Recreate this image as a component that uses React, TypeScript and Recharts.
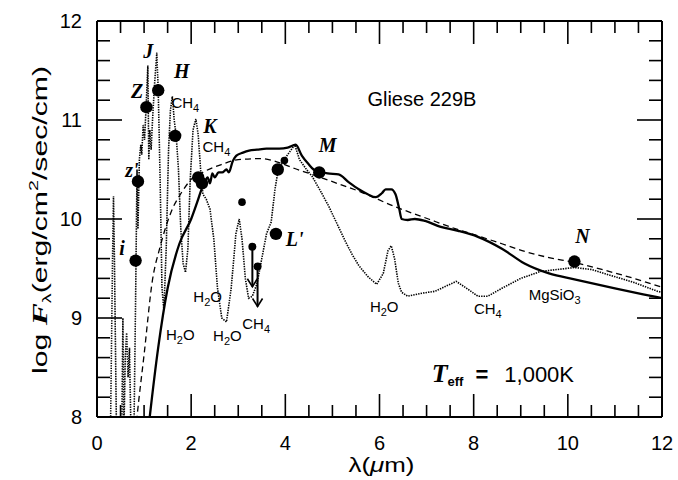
import React from 'react';
import { ComposedChart, Line, Scatter, XAxis, YAxis } from 'recharts';

// ---------- axes ----------
const xMinorTicks = [0, 0.5, 1, 1.5, 2, 2.5, 3, 3.5, 4, 4.5, 5, 5.5, 6, 6.5, 7, 7.5, 8, 8.5, 9, 9.5, 10, 10.5, 11, 11.5, 12];
const xLabelTicks = [0, 2, 4, 6, 8, 10, 12];
const yMinorTicks = [8, 8.2, 8.4, 8.6, 8.8, 9, 9.2, 9.4, 9.6, 9.8, 10, 10.2, 10.4, 10.6, 10.8, 11, 11.2, 11.4, 11.6, 11.8, 12];
const yLabelTicks = [8, 9, 10, 11, 12];

// ---------- series ----------
const spectrumX = [0.28, 0.33, 0.35, 0.37, 0.42, 0.52, 0.55, 0.57, 0.6, 0.63, 0.66, 0.69, 0.72, 0.78, 0.82, 0.85, 0.87, 0.9, 0.93, 0.95, 0.98, 1.01, 1.04, 1.08, 1.1, 1.12, 1.15, 1.18, 1.22, 1.27, 1.3, 1.34, 1.38, 1.42, 1.47, 1.52, 1.56, 1.6, 1.64, 1.68, 1.73, 1.78, 1.83, 1.88, 1.93, 1.98, 2.04, 2.1, 2.15, 2.2, 2.25, 2.32, 2.4, 2.48, 2.56, 2.65, 2.75, 2.85, 2.95, 3.02, 3.08, 3.15, 3.22, 3.3, 3.4, 3.5, 3.6, 3.7, 3.78, 3.85, 3.95, 4.05, 4.2, 4.3, 4.45, 4.57, 4.75, 4.92, 5.1, 5.28, 5.42, 5.56, 5.75, 5.94, 6.08, 6.18, 6.25, 6.32, 6.4, 6.47, 6.6, 6.9, 7.18, 7.45, 7.63, 7.85, 8.09, 8.3, 8.6, 9.0, 9.42, 10.14, 10.5, 10.84, 11.4, 11.9, 12.0];
const spectrumY = [7.6, 9.6, 10.23, 9.6, 7.6, 7.6, 9.0, 7.8, 8.6, 8.85, 8.4, 8.7, 7.9, 7.7, 9.2, 10.5, 9.9, 10.6, 10.75, 10.65, 10.95, 10.8, 11.1, 11.55, 10.6, 10.9, 10.7, 11.0, 11.35, 11.68, 11.3, 10.4, 9.3, 9.08, 9.7, 10.7, 11.1, 11.24, 11.0, 10.85, 10.5, 9.9, 9.55, 9.46, 9.7, 10.4, 10.9, 11.01, 10.85, 10.5, 10.25, 10.2, 10.1, 9.8, 9.3, 9.0, 8.96, 9.3, 9.85, 10.0, 9.8, 9.4, 9.2, 9.22, 9.35, 9.6, 9.85, 9.97, 10.3, 10.5, 10.58, 10.65, 10.75, 10.6, 10.5, 10.43, 10.28, 10.13, 9.95, 9.77, 9.64, 9.53, 9.42, 9.34, 9.45, 9.68, 9.73, 9.6, 9.35, 9.26, 9.22, 9.25, 9.27, 9.33, 9.37, 9.3, 9.22, 9.22, 9.3, 9.4, 9.47, 9.51, 9.49, 9.44, 9.36, 9.27, 9.26];

const smoothX = [1.05, 1.12, 1.3, 1.5, 1.75, 2.0, 2.15, 2.22, 2.28, 2.35, 2.4, 2.45, 2.5, 2.58, 2.66, 2.75, 2.8, 2.88, 2.96, 3.1, 3.23, 3.4, 3.6, 3.87, 4.05, 4.22, 4.35, 4.5, 4.6, 4.71, 4.9, 5.13, 5.35, 5.56, 5.75, 5.92, 6.05, 6.13, 6.25, 6.34, 6.42, 6.47, 6.6, 6.75, 6.97, 7.3, 7.67, 8.09, 8.6, 9.08, 9.6, 10.14, 11.0, 11.9, 12.0];
const smoothY = [7.7, 8.0, 8.7, 9.3, 9.75, 10.0, 10.2, 10.3, 10.36, 10.42, 10.36, 10.46, 10.42, 10.47, 10.47, 10.5, 10.47, 10.58, 10.64, 10.67, 10.69, 10.7, 10.71, 10.71, 10.72, 10.75, 10.64, 10.55, 10.5, 10.48, 10.46, 10.45, 10.37, 10.3, 10.25, 10.22, 10.26, 10.3, 10.3, 10.25, 10.1, 10.0, 9.99, 10.0, 9.98, 9.92, 9.88, 9.82, 9.7, 9.55, 9.45, 9.39, 9.3, 9.21, 9.2];

const bbX = [0.8, 0.85, 1.0, 1.18, 1.33, 1.6, 1.8, 2.0, 2.28, 2.64, 3.0, 3.5, 3.87, 4.2, 4.57, 5.1, 5.62, 6.3, 7.04, 7.5, 8.09, 8.6, 9.1, 9.6, 10.14, 10.8, 11.4, 12.0];
const bbY = [7.75, 8.0, 8.63, 9.39, 9.7, 10.1, 10.27, 10.4, 10.48, 10.55, 10.6, 10.61, 10.57, 10.51, 10.45, 10.36, 10.27, 10.13, 10.0, 9.92, 9.83, 9.75, 9.67, 9.61, 9.56, 9.48, 9.4, 9.31];

const photX = [0.82, 0.87, 1.05, 1.3, 1.66, 2.15, 2.23, 3.8, 3.84, 4.72, 10.14];
const photY = [9.58, 10.38, 11.13, 11.3, 10.84, 10.42, 10.36, 9.85, 10.5, 10.47, 9.57];
const smallX = [3.08, 3.98];
const smallY = [10.17, 10.59];
const limitX = [3.3, 3.41];
const limitY = [9.72, 9.52];

const bandText = ['i', "z'", 'Z', 'J', 'H', 'K', "L'", 'M', 'N'];
const bandX = [0.53, 0.74, 0.85, 1.09, 1.8, 2.4, 4.2, 4.9, 10.31];
const bandY = [9.71, 10.5, 11.29, 11.7, 11.5, 10.94, 9.8, 10.75, 9.83];

const molBase = ['CH', 'CH', 'H', 'H', 'H', 'CH', 'H', 'CH', 'MgSiO'];
const molSub = ['4', '4', '2', '2', '2', '4', '2', '4', '3'];
const molTail = ['', '', 'O', 'O', 'O', '', 'O', '', ''];
const molX = [1.58, 2.24, 2.35, 1.77, 2.77, 3.38, 6.1, 8.3, 9.72];
const molY = [11.17, 10.73, 9.21, 8.83, 8.82, 8.94, 9.11, 9.09, 9.23];
const molAnchor = ['start', 'start', 'middle', 'middle', 'middle', 'middle', 'middle', 'middle', 'middle'];

const titleText = 'Gliese 229B';
const titleX = [6.9];
const titleY = [11.21];
const teffText = '1,000K';
const teffX = [8.62];
const teffY = [8.42];

const zipXY = (xs: number[], ys: number[]) => xs.map((x, i) => ({ x, y: ys[i] }));
const spectrum = zipXY(spectrumX, spectrumY);
const smooth = zipXY(smoothX, smoothY);
const blackbody = zipXY(bbX, bbY);
const phot = zipXY(photX, photY);
const small = zipXY(smallX, smallY);
const limits = zipXY(limitX, limitY);
const bands = bandX.map((x, i) => ({ x, y: bandY[i], t: bandText[i] }));
const mols = molX.map((x, i) => ({ x, y: molY[i], b: molBase[i], s: molSub[i], e: molTail[i], a: molAnchor[i] }));
const titles = titleX.map((x, i) => ({ x, y: titleY[i] }));
const teffs = teffX.map((x, i) => ({ x, y: teffY[i] }));

// ---------- layout ----------
const CHART_W = 678;
const CHART_H = 480;
const MARGIN = { top: 20, right: 15, bottom: 0, left: 0 };
const LEFT_W = 97;
const RIGHT_W = 1;
const TOP_H = 1;
const BOTTOM_H = 63;
const X_DOMAIN: [number, number] = [0, 12];
const Y_DOMAIN: [number, number] = [8, 12];
const PLOT_W = CHART_W - MARGIN.left - MARGIN.right - LEFT_W - RIGHT_W;
const PLOT_H = CHART_H - MARGIN.top - MARGIN.bottom - TOP_H - BOTTOM_H;
// pixel tick lengths converted to axis units so the marks go through the chart's own scales
const xPerPx = (X_DOMAIN[1] - X_DOMAIN[0]) / PLOT_W;
const yPerPx = (Y_DOMAIN[1] - Y_DOMAIN[0]) / PLOT_H;
const X_MAJOR_LEN = 23;
const X_MINOR_LEN = 12;
const Y_MAJOR_LEN = 25;
const Y_MINOR_LEN = 13;

const tickSegments: { key: string; pts: { x: number; y: number }[] }[] = [];
xMinorTicks.forEach((x) => {
  const len = (xLabelTicks.includes(x) ? X_MAJOR_LEN : X_MINOR_LEN) * yPerPx;
  tickSegments.push({ key: `b${x}`, pts: [{ x, y: Y_DOMAIN[0] }, { x, y: Y_DOMAIN[0] + len }] });
  tickSegments.push({ key: `t${x}`, pts: [{ x, y: Y_DOMAIN[1] }, { x, y: Y_DOMAIN[1] - len }] });
});
yMinorTicks.forEach((y) => {
  const len = (yLabelTicks.includes(y) ? Y_MAJOR_LEN : Y_MINOR_LEN) * xPerPx;
  tickSegments.push({ key: `l${y}`, pts: [{ x: X_DOMAIN[0], y }, { x: X_DOMAIN[0] + len, y }] });
  tickSegments.push({ key: `r${y}`, pts: [{ x: X_DOMAIN[1], y }, { x: X_DOMAIN[1] - len, y }] });
});

const SANS = "'Liberation Sans', Arial, Helvetica, sans-serif";
const SERIF = "'Liberation Serif', 'Times New Roman', serif";
const FRAME = { stroke: '#000', strokeWidth: 2 };

const renderBottomLabel = (p: any) => (
  <text x={p.x} y={Number(p.y) + 33} textAnchor="middle" fontSize={20} fontFamily={SANS} fill="#000">
    {p.payload.value}
  </text>
);
const renderLeftLabel = (p: any) => (
  <text x={Number(p.x) - 15} y={Number(p.y) + 7} textAnchor="end" fontSize={20} fontFamily={SANS} fill="#000">
    {p.payload.value}
  </text>
);

const YTitle = (p: any) => {
  const vb = p.viewBox || { x: 0, y: 21, width: 97, height: 396 };
  const cx = vb.x + 40;
  const cy = vb.y + vb.height / 2 + 1;
  return (
    <text x={cx} y={cy} transform={`rotate(-90 ${cx} ${cy})`} textAnchor="middle" fontSize={20} fontFamily={SANS} fill="#000" dy={7} textLength={308} lengthAdjust="spacingAndGlyphs">
      <tspan>log  </tspan>
      <tspan fontFamily={SERIF} fontStyle="italic" fontWeight="bold" fontSize={22}>F</tspan>
      <tspan dy={4} fontSize={13}>λ</tspan>
      <tspan dy={-4}>(erg/cm</tspan>
      <tspan dy={-9} fontSize={13}>2</tspan>
      <tspan dy={9}>/sec/cm)</tspan>
    </text>
  );
};
const XTitle = (p: any) => {
  const vb = p.viewBox || { x: 97, y: 417, width: 565, height: 63 };
  const cx = vb.x + vb.width / 2 + 2;
  return (
    <text x={cx} y={vb.y + 55} textAnchor="middle" fontSize={20} fontFamily={SANS} fill="#000" textLength={66} lengthAdjust="spacingAndGlyphs">
      λ(<tspan fontStyle="italic">μ</tspan>m)
    </text>
  );
};

const BigDot = (p: any) => <circle cx={p.cx} cy={p.cy} r={6.2} fill="#000" />;
const SmallDot = (p: any) => <circle cx={p.cx} cy={p.cy} r={3.8} fill="#000" />;
const LimitShape = (p: any) => {
  const { cx, cy } = p;
  const len = 40;
  return (
    <g>
      <circle cx={cx} cy={cy} r={4} fill="#000" />
      <line x1={cx} x2={cx} y1={cy} y2={cy + len} stroke="#000" strokeWidth={2} />
      <polyline points={`${cx - 5},${cy + len - 8} ${cx},${cy + len} ${cx + 5},${cy + len - 8}`} fill="none" stroke="#000" strokeWidth={1.6} />
    </g>
  );
};
const BandLabel = (p: any) => (
  <text x={p.cx} y={p.cy} dy={7} textAnchor="middle" fontSize={20} fontFamily={SERIF} fontStyle="italic" fontWeight="bold" fill="#000">
    {p.payload.t}
  </text>
);
const MolLabel = (p: any) => {
  const d = p.payload;
  return (
    <text x={p.cx} y={p.cy} dy={5} textAnchor={d.a} fontSize={15} fontFamily={SANS} fill="#000">
      {d.b}
      <tspan dy={4} fontSize={11}>{d.s}</tspan>
      {d.e ? <tspan dy={-4}>{d.e}</tspan> : null}
    </text>
  );
};
const TitleLabel = (p: any) => (
  <text x={p.cx} y={p.cy} dy={7} textAnchor="middle" fontSize={20} fontFamily={SANS} fill="#000">
    {titleText}
  </text>
);
const TeffLabel = (p: any) => (
  <text x={p.cx} y={p.cy} dy={7} textAnchor="middle" fill="#000">
    <tspan fontFamily={SERIF} fontStyle="italic" fontWeight="bold" fontSize={26}>T</tspan>
    <tspan fontFamily={SANS} fontWeight="bold" fontSize={13} dy={4}>eff</tspan>
    <tspan fontFamily={SANS} fontWeight="bold" fontSize={22} dy={-4} dx={12}>=</tspan>
    <tspan fontFamily={SANS} fontSize={22} dx={16}>{teffText}</tspan>
  </text>
);

export default function App() {
  return (
    <div style={{ position: 'absolute', left: 0, top: 0, width: CHART_W, height: CHART_H, background: '#fff' }}>
      <ComposedChart width={CHART_W} height={CHART_H} margin={MARGIN}>
        <XAxis xAxisId="b" dataKey="x" type="number" domain={X_DOMAIN} allowDataOverflow ticks={xLabelTicks} interval={0} tickSize={0} tickMargin={0} tickLine={false} tick={renderBottomLabel} height={BOTTOM_H} axisLine={FRAME} label={<XTitle />} />
        <XAxis xAxisId="t" orientation="top" dataKey="x" type="number" domain={X_DOMAIN} allowDataOverflow ticks={xLabelTicks} tickLine={false} tick={false} height={TOP_H} axisLine={FRAME} />
        <YAxis yAxisId="l" dataKey="y" type="number" domain={Y_DOMAIN} allowDataOverflow ticks={yLabelTicks} interval={0} tickSize={0} tickMargin={0} tickLine={false} tick={renderLeftLabel} width={LEFT_W} axisLine={FRAME} label={<YTitle />} />
        <YAxis yAxisId="r" orientation="right" dataKey="y" type="number" domain={Y_DOMAIN} allowDataOverflow ticks={yLabelTicks} tickLine={false} tick={false} width={RIGHT_W} axisLine={FRAME} />

        {tickSegments.map((s) => (
          <Line key={s.key} xAxisId="b" yAxisId="l" data={s.pts} dataKey="y" type="linear" stroke="#000" strokeWidth={1.6} dot={false} activeDot={false} legendType="none" isAnimationActive={false} />
        ))}

        <Line xAxisId="b" yAxisId="l" data={blackbody} dataKey="y" type="monotone" stroke="#000" strokeWidth={1.3} strokeDasharray="6 4" dot={false} activeDot={false} isAnimationActive={false} />
        <Line xAxisId="b" yAxisId="l" data={spectrum} dataKey="y" type="linear" stroke="#000" strokeWidth={1.6} strokeDasharray="1.4 1.1" dot={false} activeDot={false} isAnimationActive={false} />
        <Line xAxisId="b" yAxisId="l" data={smooth} dataKey="y" type="monotone" stroke="#000" strokeWidth={2.3} dot={false} activeDot={false} isAnimationActive={false} />

        <Scatter xAxisId="b" yAxisId="l" data={phot} dataKey="y" shape={<BigDot />} isAnimationActive={false} />
        <Scatter xAxisId="b" yAxisId="l" data={small} dataKey="y" shape={<SmallDot />} isAnimationActive={false} />
        <Scatter xAxisId="b" yAxisId="l" data={limits} dataKey="y" shape={<LimitShape />} isAnimationActive={false} />
        <Scatter xAxisId="b" yAxisId="l" data={bands} dataKey="y" shape={<BandLabel />} isAnimationActive={false} />
        <Scatter xAxisId="b" yAxisId="l" data={mols} dataKey="y" shape={<MolLabel />} isAnimationActive={false} />
        <Scatter xAxisId="b" yAxisId="l" data={titles} dataKey="y" shape={<TitleLabel />} isAnimationActive={false} />
        <Scatter xAxisId="b" yAxisId="l" data={teffs} dataKey="y" shape={<TeffLabel />} isAnimationActive={false} />
      </ComposedChart>
    </div>
  );
}
